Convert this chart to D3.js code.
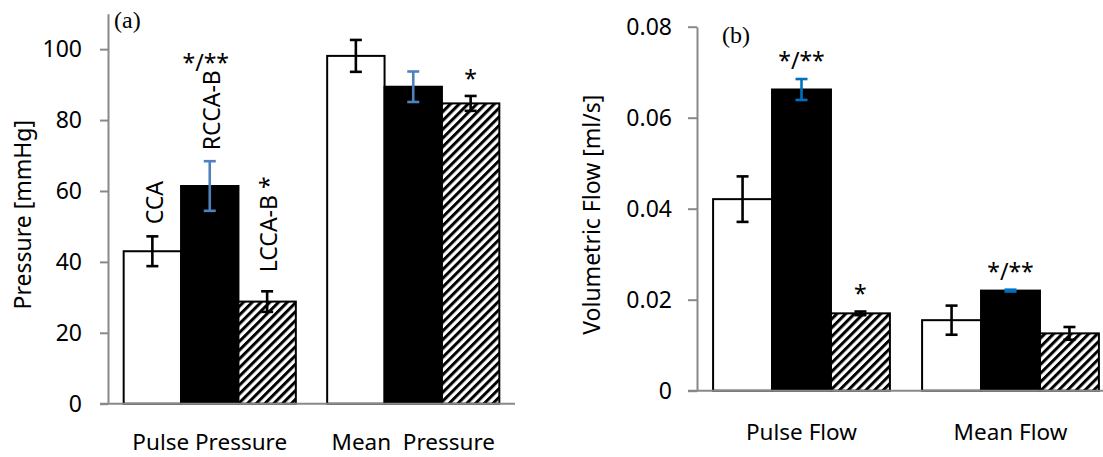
<!DOCTYPE html>
<html>
<head>
<meta charset="utf-8">
<script src="https://cdn.jsdelivr.net/npm/d3@7"></script>
<style>
  html, body { margin: 0; padding: 0; background: #fff; }
  svg { display: block; }
  text { font-family: "Noto Sans", sans-serif; fill: #000; }
</style>
</head>
<body>
<svg id="chart" width="1103" height="457"></svg>
<script>
// ---------- data ----------
const seriesNames = ["CCA", "RCCA-B", "LCCA-B"];

const pressureCategories = ["Pulse Pressure", "Mean  Pressure"];
const pressureCCA  = [43.0, 98.1];
const pressureRCCA = [61.4, 89.4];
const pressureLCCA = [28.8, 84.7];
const pressureErrCCA  = [4.2, 4.5];
const pressureErrRCCA = [7.0, 4.3];
const pressureErrLCCA = [2.9, 2.1];
const pressureTicks = [0, 20, 40, 60, 80, 100];
const pressureTickLabels = ["0", "20", "40", "60", "80", "100"];

const flowCategories = ["Pulse Flow", "Mean Flow"];
const flowCCA  = [0.0421, 0.0155];
const flowRCCA = [0.0662, 0.0220];
const flowLCCA = [0.0170, 0.0126];
const flowErrCCA  = [0.0050, 0.0032];
const flowErrRCCA = [0.0023, 0.0002];
const flowErrLCCA = [0.0004, 0.0014];
const flowTicks = [0, 0.02, 0.04, 0.06, 0.08];
const flowTickLabels = ["0", "0.02", "0.04", "0.06", "0.08"];

// significance marks: [categoryIndex, seriesIndex, text]
const pressureSig = [[1, 2, "*"]];
const flowSig = [[0, 1, "*/**"], [0, 2, "*"], [1, 1, "*/**"]];

// ---------- drawing ----------
const svg = d3.select("#chart");
const AXIS = "#898989";
const FS = 23;

const defs = svg.append("defs");
const pat = defs.append("pattern")
  .attr("id", "hatch").attr("patternUnits", "userSpaceOnUse")
  .attr("width", 6.2).attr("height", 6.2)
  .attr("patternTransform", "rotate(45)");
pat.append("rect").attr("width", 6.2).attr("height", 6.2).attr("fill", "#fff");
pat.append("line").attr("x1", 1.5).attr("y1", 0).attr("x2", 1.5).attr("y2", 6.2)
  .attr("stroke", "#000").attr("stroke-width", 3);

function panel(opt) {
  const g = svg.append("g");
  const y = d3.scaleLinear().domain(opt.yDomain).range(opt.yRange);
  const x0 = d3.scaleBand().domain(opt.categories).range(opt.xRange).padding(0);
  const step = x0.bandwidth();
  const gw = step * 0.846;
  const x1 = d3.scaleBand().domain(seriesNames)
    .range([(step - gw) / 2, (step + gw) / 2]).padding(0);

  const fills = ["#fff", "#000", "url(#hatch)"];
  const errColors = ["#000", opt.blue, "#000"];

  const rows = [];
  opt.categories.forEach((c, ci) => {
    seriesNames.forEach((s, si) => {
      rows.push({ c, ci, s, si, v: opt.values[si][ci], e: opt.errors[si][ci] });
    });
  });

  // bars
  g.selectAll("rect.bar").data(rows).join("rect")
    .attr("class", "bar")
    .attr("x", d => x0(d.c) + x1(d.s))
    .attr("width", x1.bandwidth())
    .attr("y", d => y(d.v))
    .attr("height", d => y(0) - y(d.v))
    .attr("fill", d => fills[d.si])
    .attr("stroke", "#000")
    .attr("stroke-width", 2);

  // error bars
  const cx = d => x0(d.c) + x1(d.s) + x1.bandwidth() / 2;
  const cap = 6;
  const eg = g.selectAll("g.err").data(rows).join("g").attr("class", "err")
    .attr("stroke", d => errColors[d.si]).attr("stroke-width", 2.6).attr("fill", "none");
  eg.append("line").attr("x1", cx).attr("x2", cx)
    .attr("y1", d => y(d.v + d.e)).attr("y2", d => y(d.v - d.e));
  eg.append("line").attr("x1", d => cx(d) - cap).attr("x2", d => cx(d) + cap)
    .attr("y1", d => y(d.v + d.e)).attr("y2", d => y(d.v + d.e));
  eg.append("line").attr("x1", d => cx(d) - cap).attr("x2", d => cx(d) + cap)
    .attr("y1", d => y(d.v - d.e)).attr("y2", d => y(d.v - d.e));

  // y axis
  const ya = g.append("g").attr("transform", `translate(${opt.xRange[0]},0)`)
    .call(d3.axisLeft(y).tickValues(opt.ticks).tickFormat((d, i) => opt.tickLabels[i])
      .tickSize(opt.tickSize).tickSizeOuter(0).tickPadding(opt.tickPad));
  ya.select(".domain").attr("stroke", AXIS).attr("stroke-width", 2);
  ya.selectAll(".tick line").attr("stroke", AXIS).attr("stroke-width", 2);
  ya.selectAll(".tick text").attr("font-size", opt.tickFont).attr("fill", "#000")
    .style("font-family", '"Noto Sans", sans-serif');

  // x axis baseline
  g.append("line").attr("x1", opt.xRange[0] - opt.tickSize).attr("x2", opt.xRange[1])
    .attr("y1", y(0)).attr("y2", y(0)).attr("stroke", AXIS).attr("stroke-width", 2);

  // category labels
  g.selectAll("text.cat").data(opt.categories).join("text").attr("class", "cat")
    .attr("x", c => x0(c) + step / 2).attr("y", opt.catY)
    .attr("text-anchor", "middle").attr("font-size", 22.5)
    .style("white-space", "pre").attr("xml:space", "preserve")
    .text(c => c);

  // y title
  g.append("text")
    .attr("transform", `translate(${opt.titleX},${(opt.yRange[0] + opt.yRange[1]) / 2 + 6}) rotate(-90)`)
    .attr("text-anchor", "middle").attr("font-size", FS).attr("dy", "0.35em")
    .text(opt.title);

  // panel letter
  g.append("text").attr("x", opt.letterX).attr("y", opt.letterY)
    .style("font-family", '"Liberation Serif", "Times New Roman", serif')
    .attr("font-size", 24).text(opt.letter);

  // significance
  opt.sig.forEach(([ci, si, t]) => {
    const d = rows.find(r => r.ci === ci && r.si === si);
    g.append("text").attr("x", cx(d)).attr("y", y(d.v + d.e) - opt.sigGap)
      .attr("text-anchor", "middle").attr("font-size", FS).text(t);
  });

  return { g, y, x0, x1, rows, cx };
}

const A = panel({
  categories: pressureCategories,
  values: [pressureCCA, pressureRCCA, pressureLCCA],
  errors: [pressureErrCCA, pressureErrRCCA, pressureErrLCCA],
  yDomain: [0, 110], yRange: [403.7, 13.7], xRange: [108, 515],
  ticks: pressureTicks, tickLabels: pressureTickLabels,
  tickSize: 8, tickPad: 18, tickFont: 23,
  blue: "#4F81BD", catY: 450, title: "Pressure [mmHg]", titleX: 23,
  letter: "(a)", letterX: 114, letterY: 28,
  sig: pressureSig, sigGap: 9
});

const B = panel({
  categories: flowCategories,
  values: [flowCCA, flowRCCA, flowLCCA],
  errors: [flowErrCCA, flowErrRCCA, flowErrLCCA],
  yDomain: [0, 0.08], yRange: [390.7, 26.7], xRange: [697, 1115],
  ticks: flowTicks, tickLabels: flowTickLabels,
  tickSize: 9, tickPad: 16, tickFont: 23,
  blue: "#0070C0", catY: 440, title: "Volumetric Flow [ml/s]", titleX: 592,
  letter: "(b)", letterX: 722, letterY: 43,
  sig: flowSig, sigGap: 10
});

// rotated series labels in panel (a), above the Pulse Pressure bars
const labelText = ["CCA", "RCCA-B", "LCCA-B *"];
const labelGap = [12, 11, 19];
let rccaTop = 0;
A.rows.filter(r => r.ci === 0).forEach(d => {
  const x = A.cx(d) + 2 + 0.357 * FS;
  const yb = A.y(d.v + d.e) - labelGap[d.si];
  const t = A.g.append("text")
    .attr("transform", `translate(${x},${yb}) rotate(-90)`)
    .attr("text-anchor", "start").attr("font-size", FS).text(labelText[d.si]);
  if (d.si === 1) rccaTop = yb - t.node().getComputedTextLength();
});
// */** above the RCCA-B label
{
  const d = A.rows.find(r => r.ci === 0 && r.si === 1);
  A.g.append("text").attr("x", A.cx(d) - 4).attr("y", rccaTop + 1)
    .attr("text-anchor", "middle").attr("font-size", FS).text("*/**");
}
</script>
</body>
</html>
